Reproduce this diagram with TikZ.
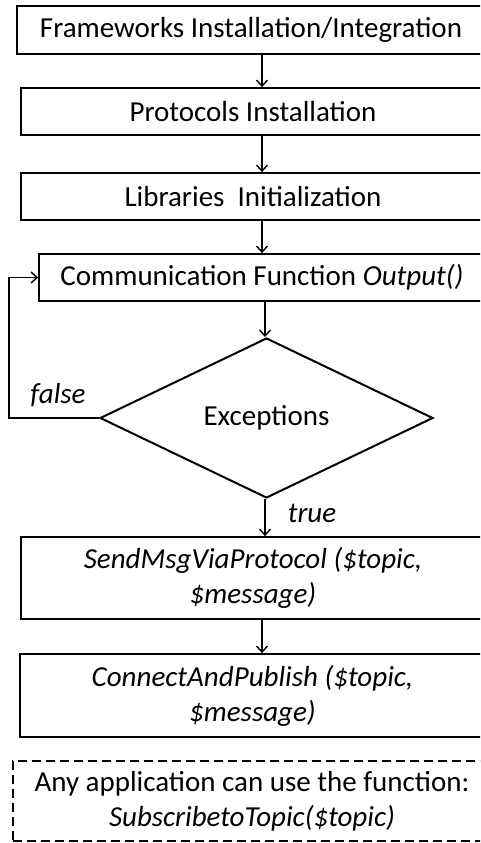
\documentclass[tikz,border=0pt]{standalone}
\usepackage{fontspec}
\setmainfont{Carlito}
\usetikzlibrary{shapes.geometric,arrows.meta}
\begin{document}
\begin{tikzpicture}[x=1pt,y=-1pt,
  box/.style={draw,line width=1.8pt,rectangle,inner sep=0pt,align=center,font=\fontsize{29}{35}\selectfont},
  dbox/.style={box,dashed,line width=1.3pt,dash pattern=on 9pt off 5pt},
  conn/.style={line width=1.4pt,-{Straight Barb[length=6pt,width=11pt,line width=1.4pt]}},
  lbl/.style={font=\fontsize{29}{35}\selectfont\itshape,inner sep=0pt}]
\clip (0,0) rectangle (480,843);
\fill[white] (0,0) rectangle (480,843);
\node[box,minimum width=468pt,minimum height=48pt] (b1) at (251,30) {Frameworks Installation/Integration};
\node[box,minimum width=464pt,minimum height=47pt] (b2) at (253,111.5) {Protocols Installation};
\node[box,minimum width=464pt,minimum height=47pt] (b3) at (253,196.5) {Libraries\ \ Initialization};
\node[box,minimum width=446pt,minimum height=47pt] (b4) at (262,277.5) {Communication Function \textit{Output()}};
\node[draw,diamond,line width=2pt,inner sep=0pt,minimum width=333pt,minimum height=160pt,font=\fontsize{29}{35}\selectfont] (d) at (266.5,418) {Exceptions};
\node[box,minimum width=464pt,minimum height=82pt] (b5) at (253,578) {\textit{SendMsgViaProtocol (\$topic,}\\\textit{\$message)}};
\node[box,minimum width=465pt,minimum height=83pt] (b6) at (252.5,695.5) {\textit{ConnectAndPublish (\$topic,}\\\textit{\$message)}};
\node[dbox,minimum width=478pt,minimum height=80pt] (b7) at (252,801) {Any application can use the function:\\\textit{SubscribetoTopic(\$topic)}};
\coordinate (ax) at (262,0);
\coordinate (dx) at (265,0);
\coordinate (lp) at (9,0);
\draw[conn] (b1.south -| ax) -- (b2.north -| ax);
\draw[conn] (b2.south -| ax) -- (b3.north -| ax);
\draw[conn] (b3.south -| ax) -- (b4.north -| ax);
\draw[conn] (b4.south -| dx) -- (d.north -| dx);
\draw[conn] (d.south -| dx) -- (b5.north -| dx);
\draw[conn] (b5.south -| ax) -- (b6.north -| ax);
\draw[conn] (d.west) -- (d.west -| lp) -- (b4.west -| lp) -- (b4.west);
\node[lbl] (f) at (58,395) {false};
\node[lbl] (t) at (312,513) {true};
\end{tikzpicture}
\end{document}
